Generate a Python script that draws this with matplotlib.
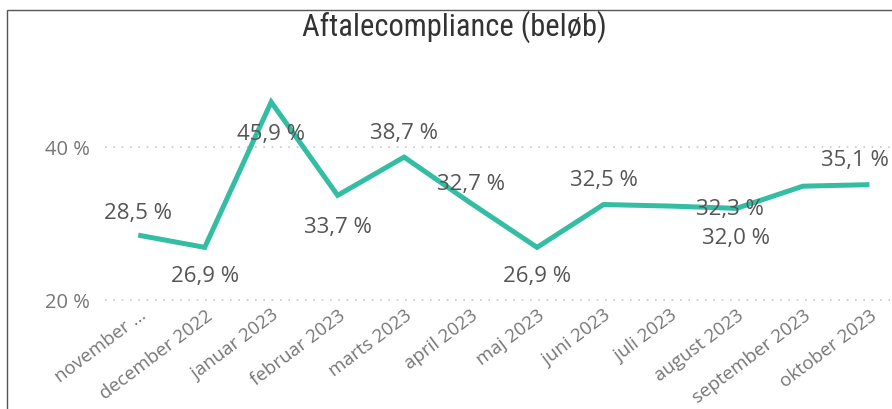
import numpy as np
import matplotlib.pyplot as plt
from matplotlib.patches import Rectangle


# Data
months = [
    "november …", "december 2022", "januar 2023", "februar 2023",
    "marts 2023", "april 2023", "maj 2023", "juni 2023", "juli 2023",
    "august 2023", "september 2023", "oktober 2023",
]
compliance = [28.5, 26.9, 45.9, 33.7, 38.7, 32.7, 26.9, 32.5, 32.3, 32.0, 34.9, 35.1]

# Shown data labels (Power BI hides the overlapping ones)
shown = [True, True, True, True, True, True, True, True, True, True, False, True]

y_ticks = [20, 40]

# label placement in pixels (dx, dy), positive dy = up
label_offsets = [
    (0, 22), (0, -29), (0, -32), (0, -32), (0, 24), (0, 19),
    (0, -29), (0, 24), (60, -3), (0, -30), (0, 24), (-14, 24),
]

LINE_COLOR = "#33BDA3"
TEXT_COLOR = "#555555"

plt.rcParams["font.family"] = ["Open Sans", "DejaVu Sans"]

fig = plt.figure(figsize=(8.92, 4.09), dpi=100)
ax = fig.add_axes([105 / 892, 0.254, 1 - 105 / 892, 0.648])

x = np.arange(len(months))
ax.plot(x, compliance, color=LINE_COLOR, linewidth=3.6, solid_joinstyle="miter",
        solid_capstyle="butt", zorder=3)

for i, (val, show) in enumerate(zip(compliance, shown)):
    if not show:
        continue
    dx, dy = label_offsets[i]
    ax.annotate(f"{val:.1f} %".replace(".", ","), (x[i], val),
                xytext=(dx * 0.72, dy * 0.72), textcoords="offset points",
                ha="center", va="center", fontsize=16, color=TEXT_COLOR, zorder=4)

ax.set_xlim(-0.5, 11.34)
ax.set_ylim(19.35, 54)

ax.set_yticks(y_ticks)
ax.set_yticklabels([f"{t} %" for t in y_ticks])
ax.set_xticks(x)
ax.set_xticklabels(months, rotation=37, ha="right", rotation_mode="anchor")

ax.tick_params(axis="both", length=0, labelcolor="#777777")
ax.tick_params(axis="y", labelsize=14.5, pad=11)
ax.tick_params(axis="x", labelsize=13.5, pad=1)

ax.grid(axis="y", color="#C8C8C8", linestyle=(0, (1, 4)), linewidth=1.2)
ax.set_axisbelow(True)
for spine in ax.spines.values():
    spine.set_visible(False)

fig.text(0.509, 1 - 36 / 409, "Aftalecompliance (beløb)", ha="center", va="baseline",
         fontsize=22, color="#333333",
         family=["Roboto Condensed", "Roboto", "DejaVu Sans"])

# outer frame of the visual
fig.patches.append(Rectangle((7 / 892, -0.2), 1.1, 0.2 + (409 - 10) / 409,
                             transform=fig.transFigure, fill=False,
                             edgecolor="#555555", linewidth=1.0))

fig.savefig("out.png", dpi=100)
